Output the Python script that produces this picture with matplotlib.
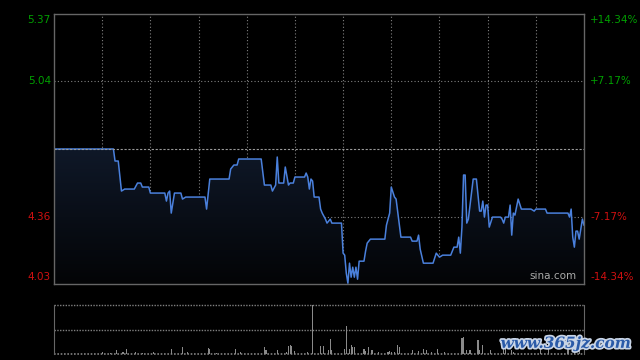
import numpy as np
import matplotlib.pyplot as plt
import matplotlib.patheffects as pe
from matplotlib.colors import LinearSegmentedColormap

# Intraday data (minutes after the open, 330 minute session)
prev_close = 4.70
minutes = [0, 37, 38, 40, 42, 44, 50, 52, 54, 55,
           59, 60, 69, 70, 71, 72, 73, 75, 79, 80,
           82, 94, 95, 97, 109, 110, 112, 114, 115, 129,
           131, 135, 136, 138, 139, 140, 143, 144, 146, 147,
           149, 150, 156, 157, 158, 159, 160, 161, 162, 165,
           166, 167, 169, 170, 172, 173, 179, 180, 181, 182,
           183, 184, 185, 186, 187, 188, 189, 190, 193, 194,
           195, 197, 206, 207, 209, 210, 212, 213, 216, 222,
           223, 226, 227, 228, 230, 236, 238, 240, 242, 247,
           249, 251, 252, 253, 254, 255, 256, 257, 258, 261,
           263, 265, 266, 267, 268, 269, 270, 271, 273, 278,
           279, 280, 281, 283, 284, 285, 286, 287, 289, 291,
           297, 299, 300, 306, 307, 320, 321, 322, 323, 324,
           325, 326, 327, 329, 330]
prices = [4.70, 4.70, 4.64, 4.64, 4.49, 4.50, 4.50, 4.53, 4.53, 4.51,
          4.51, 4.48, 4.48, 4.44, 4.48, 4.49, 4.38, 4.48, 4.48, 4.45,
          4.46, 4.46, 4.40, 4.55, 4.55, 4.60, 4.62, 4.62, 4.65, 4.65,
          4.52, 4.52, 4.49, 4.52, 4.66, 4.53, 4.53, 4.61, 4.52, 4.53,
          4.53, 4.56, 4.56, 4.58, 4.56, 4.50, 4.55, 4.54, 4.46, 4.46,
          4.40, 4.38, 4.35, 4.33, 4.35, 4.33, 4.33, 4.18, 4.17, 4.08,
          4.03, 4.13, 4.06, 4.11, 4.06, 4.11, 4.05, 4.14, 4.14, 4.19,
          4.23, 4.25, 4.25, 4.32, 4.38, 4.51, 4.46, 4.45, 4.26, 4.26,
          4.24, 4.24, 4.27, 4.20, 4.13, 4.13, 4.18, 4.16, 4.17, 4.17,
          4.21, 4.21, 4.26, 4.18, 4.31, 4.57, 4.57, 4.33, 4.35, 4.55,
          4.55, 4.39, 4.39, 4.44, 4.36, 4.42, 4.42, 4.31, 4.36, 4.36,
          4.35, 4.33, 4.36, 4.36, 4.42, 4.27, 4.38, 4.37, 4.45, 4.40,
          4.40, 4.39, 4.40, 4.40, 4.38, 4.38, 4.36, 4.40, 4.26, 4.21,
          4.29, 4.29, 4.25, 4.35, 4.32]

vol_minutes = [30, 35, 39, 43, 45, 51, 55, 62, 73, 80, 83, 96, 97, 101, 113, 116, 131, 132, 139, 145,
               146, 147, 148, 150, 158, 161, 166, 168, 171, 172, 173, 181, 182, 184, 185, 186, 187, 193, 194, 196,
               198, 202, 208, 209, 210, 212, 214, 215, 223, 227, 230, 232, 235, 239, 243, 254, 255, 257, 259, 264,
               265, 267, 272, 280, 281, 285, 286, 303, 308, 320, 324, 327]
volumes = [2, 1, 4.3, 2, 5.3, 2, 1, 2, 5.3, 7.3, 2, 6.3, 5.3, 1, 5.3, 2, 7.3, 4.3, 4.3, 2.3,
           8.3, 9.3, 8.3, 2.7, 2, 60, 7.7, 8.3, 4.3, 15.3, 4.3, 5.3, 27.7, 5.3, 8.7, 6.7, 7.3, 5.3, 2.7, 6.7,
           4.3, 1.7, 2.3, 2.7, 1.7, 2, 9.3, 6.7, 4.3, 2.7, 5.3, 3.7, 2, 5.3, 2, 15.7, 16.7, 3.7, 4.3, 13.7,
           4.3, 8.7, 4.3, 11.7, 7.7, 3.7, 2, 5, 8, 18, 4, 6]

levels = [5.37, 5.04, 4.70, 4.36, 4.03]
left_labels = ['5.37', '5.04', '', '4.36', '4.03']
right_labels = ['+14.34%', '+7.17%', '', '-7.17%', '-14.34%']

green = '#00a000'
red = '#d01010'
grid_col = '#808080'

fig = plt.figure(figsize=(6.4, 3.6), dpi=100, facecolor='black')

ax = fig.add_axes([54 / 640, 1 - 284 / 360, 530 / 640, 270 / 360], facecolor='black')
ymin, ymax = 4.026, 5.374
ax.set_xlim(0, 330)
ax.set_ylim(ymin, ymax)

# grid
for m in range(30, 330, 30):
    ax.axvline(m, color=grid_col, lw=0.8, ls=(0, (1, 2)), zorder=1)
for lv in [5.04, 4.36]:
    ax.axhline(lv, color=grid_col, lw=0.8, ls=(0, (1, 2)), zorder=1)
ax.axhline(prev_close, color='#999999', lw=0.8, ls=(0, (2, 1.5)), zorder=4)

# gradient fill under the price line
poly = ax.fill_between(minutes, prices, ymin, color='none', zorder=2)
cmap = LinearSegmentedColormap.from_list('fade', ['#030406', '#0f1828'])
grad = np.linspace(0, 1, 256).reshape(-1, 1)
img = ax.imshow(grad, cmap=cmap, aspect='auto', origin='lower',
                extent=[0, 330, ymin, prev_close], zorder=2)
img.set_clip_path(poly.get_paths()[0], transform=ax.transData)
ax.set_xlim(0, 330)
ax.set_ylim(ymin, ymax)

ax.plot(minutes, prices, color='#4a80dc', lw=1.1, zorder=3)

for s in ax.spines.values():
    s.set_color('#666666')
    s.set_linewidth(1)
    s.set_zorder(5)
ax.set_xticks([])
ax.set_yticks([])

# axis labels
trans = ax.get_yaxis_transform()
for i, (lv, ll, rl) in enumerate(zip(levels, left_labels, right_labels)):
    if not ll:
        continue
    col = green if lv > prev_close else red
    if i == 0:
        va, dy = 'top', -0.003
    elif i == len(levels) - 1:
        va, dy = 'bottom', 0.008
    else:
        va, dy = 'center', 0
    ax.text(-0.006, lv + dy, ll, transform=trans, ha='right', va=va, color=col, fontsize=7.5)
    ax.text(1.012, lv + dy, rl, transform=trans, ha='left', va=va, color=col, fontsize=7.5)

ax.text(0.985, 0.012, 'sina.com', transform=ax.transAxes, ha='right', va='bottom',
        color='#aaaaaa', fontsize=7.5, zorder=6)

# volume panel
axv = fig.add_axes([54 / 640, 1 - 354 / 360, 530 / 640, 49 / 360], facecolor='black')
axv.set_xlim(0, 330)
axv.set_ylim(0, 49)
axv.bar(vol_minutes, volumes, width=0.7, color='#8a8a8a', zorder=2)
axv.axhline(24.5, color=grid_col, lw=1, ls=(0, (1, 1)), zorder=1)
axv.axhline(49, color=grid_col, lw=1, ls=(0, (1, 1)), zorder=1, clip_on=False)
axv.axhline(0, color=grid_col, lw=1.2, ls=(0, (1, 1)), zorder=1, clip_on=False)
axv.spines['top'].set_visible(False)
axv.spines['bottom'].set_visible(False)
for side in ['left', 'right']:
    axv.spines[side].set_color('#666666')
axv.set_xticks([])
axv.set_yticks([])

fig.text(0.985, 0.045, 'www.365jz.com', ha='right', va='center', color='#2a5aa8',
         fontsize=11, fontweight='bold', style='italic', family='DejaVu Serif',
         path_effects=[pe.withStroke(linewidth=2.5, foreground='#c8d4e6')])

fig.savefig('out.png', dpi=100, facecolor='black')
